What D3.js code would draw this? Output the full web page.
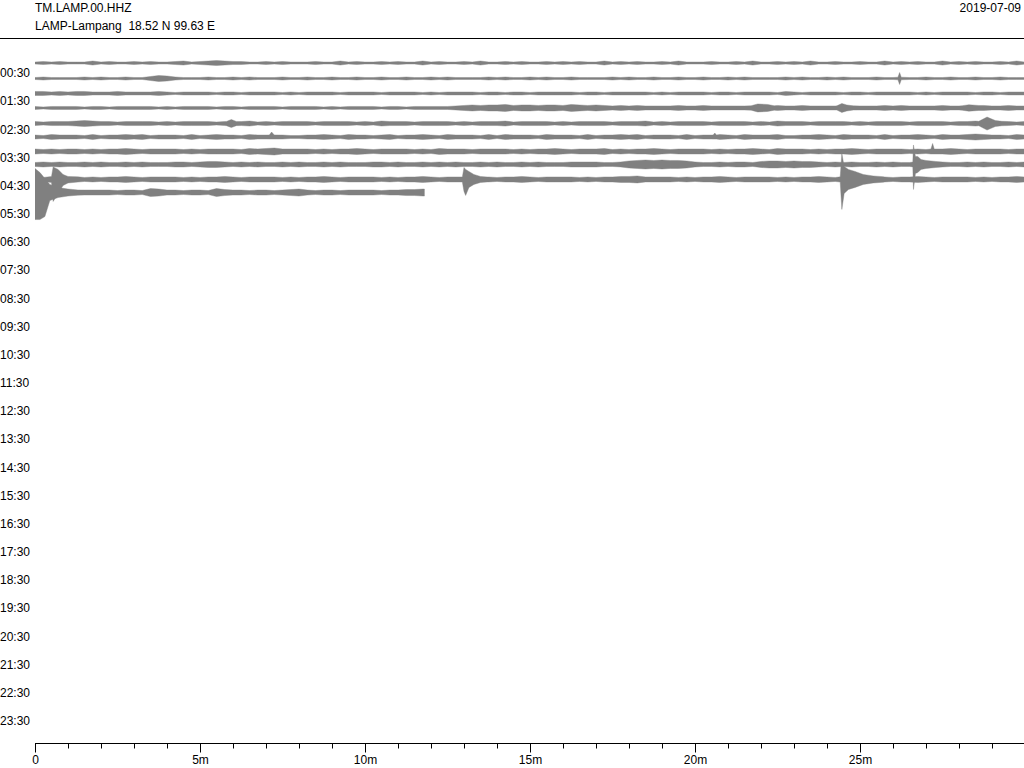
<!DOCTYPE html>
<html>
<head>
  <meta charset="utf-8">
  <script src="https://cdn.jsdelivr.net/npm/d3@7"></script>
  <style>
    body { margin:0; background:#fff; }
    text { font-family: "Liberation Sans", Arial, sans-serif; font-size: 12px; fill: #000; white-space: pre; }
  </style>
</head>
<body>
<script>

/* Data */
/* ==== */

var station = "TM.LAMP.00.HHZ",
    stationInfo = "LAMP-Lampang  18.52 N 99.63 E",
    dayLabel = "2019-07-09";

var hourLabels = ["00:30","01:30","02:30","03:30","04:30","05:30","06:30","07:30",
  "08:30","09:30","10:30","11:30","12:30","13:30","14:30","15:30","16:30","17:30",
  "18:30","19:30","20:30","21:30","22:30","23:30"];

var majorTicks = [0, 5, 10, 15, 20, 25],
    majorTickLabels = ["0", "5m", "10m", "15m", "20m", "25m"],
    minorTicks = [1,2,3,4,6,7,8,9,11,12,13,14,16,17,18,19,21,22,23,24,26,27,28,29];

// one line per 30 minutes, start hour of each line
var lineStart = [0, 0.5, 1, 1.5, 2, 2.5, 3, 3.5, 4, 4.5];
// length of each line in minutes (last one is still recording)
var lineEnd = [30, 30, 30, 30, 30, 30, 30, 30, 30, 11.8];
// mean offset of each trace (counts x1000)
var lineOffset = [4.1, 5.5, 6.4, 6.8, 8.3, 7.7, 8.1, 7.0, 7.9, 6.9];

// background noise envelope, one digit every 15 s, in half units (counts x500)
// groups of four = one minute
var noise0 = "2323 2224 2322 3232 2342 3454 3322 3232 2232 2423 2232 3224 2322 3242 2323 2232 3232 2423 2322 3242 2232 2324 2232 3242 2322 3224 2323 2242 3232 2324 2";
var noise1 = "2322 2232 3223 2246 5322 2322 3232 2232 2322 3223 2232 2322 3232 2223 2322 3232 2322 2232 3223 2232 2322 3232 2223 2322 3232 2232 2322 3223 2232 2322 2";
var noise2 = "4434 3443 3343 3334 3233 3323 3233 3323 2333 3233 3323 3332 3233 3323 3233 2333 3323 3233 3332 3233 3323 3233 3324 3233 3323 3233 3332 3233 3323 3233 3";
var noise3 = "3233 3323 3233 3332 3233 3323 3233 3323 3332 3233 3323 3233 3334 5656 6756 6566 5765 6545 4544 4454 4544 4445 4454 4544 4454 4445 4544 4454 4545 4454 4";
var noise4 = "4344 4565 4434 4443 4344 4434 4453 4344 4434 4443 4354 4434 4443 4344 4534 4443 4344 4434 4453 4344 4434 4443 4354 4434 4443 4344 4434 4443 4454 4443 4";
var noise5 = "4354 4435 3445 4534 4435 3454 4354 4543 3445 4354 4345 3445 4354 4435 3544 4354 4435 3445 4534 4435 3445 4354 4453 3445 4354 4435 3445 4354 4565 4435 4";
var noise6 = "5454 5545 4556 5455 5545 4555 5465 6755 5545 4556 5455 5545 4655 5455 5545 4556 5455 5645 4556 5455 5545 4556 5465 5545 4556 5455 5545 4556 5455 5545 5";
var noise7 = "4545 4454 5445 4544 4554 5665 4545 4454 5445 4544 4554 5445 4545 4454 5445 4544 4555 5445 7898 9887 5445 4554 6776 7665 4545 4454 5445 4554 4545 4454 5";
var noise8 = "5455 5545 4556 5455 5545 4556 5455 5545 4556 5455 5545 4556 5455 5545 4556 5455 5545 4556 6755 5545 4556 5455 5545 4556 5455 5545 4556 5455 5545 4556 5";
var noise9 = "5555 5455 5545 5487 5545 5486 5545 5456 7545 5455 5545 5667";

var noise = [noise0, noise1, noise2, noise3, noise4, noise5, noise6, noise7, noise8, noise9];
var noiseStep = 0.25; // minutes

// events: [minute, up, down] envelope knots (counts x1000)
var events0 = [];
var events1 = [
  [[26.15,1.3,1.3],[26.2,6,6],[26.25,1.3,1.3]]
];
var events2 = [];
var events3 = [
  [[21.7,2.2,2.2],[21.9,4,4],[22.2,3.5,3.5],[22.4,2.2,2.2]],
  [[24.3,2.1,2.1],[24.45,4.5,4.5],[24.6,3,3],[24.8,2.1,2.1]],
  [[28.1,2.3,2.3],[28.3,3.2,3.2],[28.6,2.5,2.5]]
];
var events4 = [
  [[5.8,2.1,2.1],[5.95,4,4],[6.1,2.1,2.1]],
  [[28.6,2.2,2.2],[28.85,6.5,6.5],[29.1,3,3],[29.3,2.2,2.2]]
];
var events5 = [
  [[7.1,2.1,2.1],[7.17,5,2.1],[7.25,2.1,2.1]],
  [[20.55,2.1,2.1],[20.6,4,2.1],[20.65,2.1,2.1]]
];
var events6 = [
  [[27.15,2.5,2.5],[27.2,8,2.5],[27.25,2.5,2.5]]
];
var events7 = [
  [[26.6,2.4,2.4],[26.62,19.5,25],[26.68,8,9],[26.75,8,8],[26.85,5,5],[27.0,4,4],[27.3,3,3],[27.5,2.5,2.5]]
];
var events8 = [
  [[0.5,3,3],[0.55,12.5,22],[0.7,10,14],[0.85,5,6],[1.0,3,3.5],[1.3,2.6,2.6]],
  [[12.95,2.5,2.5],[13.0,12,12],[13.05,10,16],[13.15,8,8],[13.3,5,5],[13.5,3,3],[13.7,2.5,2.5]],
  [[24.4,2.6,2.6],[24.45,26,30],[24.52,13,14],[24.65,10,10],[24.85,8,8],[25.1,5,5],[25.4,3.5,3.5],[25.7,2.8,2.8]]
];
var events9 = [
  [[0,24,27],[0.15,20,27],[0.3,14,24],[0.45,8,8],[0.7,5,5],[1.0,3.5,3.5],[1.3,2.6,2.6]]
];

var events = [events0, events1, events2, events3, events4, events5, events6, events7, events8, events9];


/* Set up */
/* ====== */

var width = 1024,
    height = 768,
    margin = { top: 59, left: 35, bottom: 25 };

var svg = d3.select('body')
  .append('svg')
    .attr('width', width)
    .attr('height', height);

var x = d3.scaleLinear()
    .domain([0, 30])
    .range([margin.left, margin.left + 990]);

// hours down the page
var y = d3.scaleLinear()
    .domain([0.5, 23.5])
    .range([73, 720.7]);

// counts x1000 -> pixels
var amp = d3.scaleLinear()
    .domain([0, 1])
    .range([0, 1]);

var traceColor = '#808080';


/* Header */
/* ====== */

svg.append('text')
    .attr('x', 35)
    .attr('y', 12)
    .text(station);

svg.append('text')
    .attr('x', 35)
    .attr('y', 30)
    .text(stationInfo);

svg.append('text')
    .attr('x', 1021)
    .attr('y', 12)
    .attr('text-anchor', 'end')
    .text(dayLabel);

svg.append('line')
    .attr('x1', 0)
    .attr('x2', width)
    .attr('y1', 38.5)
    .attr('y2', 38.5)
    .attr('stroke', '#000')
    .attr('stroke-width', 1);


/* Hour labels */
/* =========== */

svg.selectAll('.hour')
    .data(hourLabels)
    .enter()
  .append('text')
    .attr('class', 'hour')
    .attr('x', 0)
    .attr('y', function(d, i) { return y(i + 0.5) + 4.3; })
    .text(function(d) { return d; });


/* Traces */
/* ====== */

svg.append('clipPath')
    .attr('id', 'plot-clip')
  .append('rect')
    .attr('x', margin.left)
    .attr('y', 40)
    .attr('width', width - margin.left)
    .attr('height', 700);

// merge the noise knots with the event knots of a line
function lineKnots(i) {
  var evs = events[i],
      digits = noise[i].replace(/ /g, '').split('').map(Number),
      knots = [];

  function inEvent(t) {
    return evs.some(function(e) {
      return t >= e[0][0] && t <= e[e.length - 1][0];
    });
  }

  digits.forEach(function(v, k) {
    var t = k * noiseStep;
    if (t <= lineEnd[i] && !inEvent(t)) knots.push([t, v / 2, v / 2]);
  });
  var last = knots[knots.length - 1];
  if (last[0] < lineEnd[i]) knots.push([lineEnd[i], last[1], last[2]]);

  evs.forEach(function(e) { knots = knots.concat(e); });

  knots.sort(function(a, b) { return a[0] - b[0]; });
  return knots;
}

var traces = svg.append('g')
    .attr('clip-path', 'url(#plot-clip)');

lineStart.forEach(function(h, i) {
  var base = y(h) + amp(lineOffset[i]);

  var area = d3.area()
      .x(function(d) { return x(d[0]); })
      .y0(function(d) { return base + amp(d[2]); })
      .y1(function(d) { return base - amp(d[1]); });

  traces.append('path')
      .datum(lineKnots(i))
      .attr('class', 'trace')
      .attr('d', area)
      .attr('fill', traceColor)
      .attr('stroke', traceColor)
      .attr('stroke-width', 0.4);
});


/* Minute axis */
/* =========== */

var xAxis = d3.axisBottom(x)
    .tickValues(majorTicks.concat(minorTicks))
    .tickSize(9)
    .tickSizeOuter(0)
    .tickPadding(3)
    .tickFormat(function(d) {
      var k = majorTicks.indexOf(d);
      return k < 0 ? '' : majorTickLabels[k];
    });

var axisG = svg.append('g')
    .attr('transform', 'translate(0,743.5)')
    .call(xAxis);

axisG.select('.domain')
    .attr('d', 'M' + x(0) + ',0H' + width);

axisG.selectAll('.tick')
  .filter(function(d) { return majorTicks.indexOf(d) < 0; })
  .select('line')
    .attr('y2', 5);

axisG.selectAll('text')
    .style('font-family', '"Liberation Sans", Arial, sans-serif')
    .style('font-size', '12px');

</script>
</body>
</html>
